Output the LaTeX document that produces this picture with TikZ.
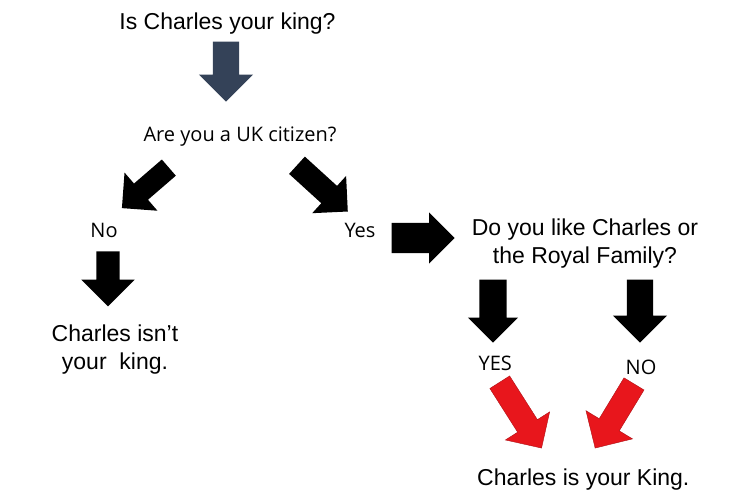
\documentclass[tikz,border=0pt]{standalone}
\usepackage{fontspec}
\setmainfont{Liberation Sans}
\newfontfamily\answerfont{Open Sans}
\usetikzlibrary{shapes.arrows}
\definecolor{slate}{RGB}{52,66,88}
\definecolor{kingred}{RGB}{232,22,28}
\begin{document}
\begin{tikzpicture}[x=1pt,y=-1pt,
				question/.style={inner sep=0pt,anchor=base,font=\fontsize{23}{27.6}\selectfont,align=center},
				answer/.style={inner sep=0pt,anchor=base,font=\answerfont\fontsize{20}{24}\selectfont},
				fat/.style n args={3}{single arrow,anchor=tip,inner xsep=0pt,minimum height=#1,inner ysep=#2/2,
					single arrow head extend=(#3-#2)/2,minimum width=#3,fill=black},
				redfat/.style n args={3}{fat={#1}{#2}{#3},fill=kingred,draw=kingred!75!black,line width=0.4pt}
				]
				\useasboundingbox[fill=white] (0,0) rectangle (732,503);
				\node[question](king) at (227.5,29.5){Is Charles your king?};
				\node[answer](uk) at (240,141.7){Are you a UK citizen?};
				\node[answer](no) at (104,237){No};
				\node[answer](yes) at (360,237.5){Yes};
				\node[question](notking) at (115,369.3){Charles isn't\\your\ \ king.};
				\node[question](like) at (585,263.3){Do you like Charles or\\the Royal Family?};
				\node[answer](likeyes) at (495.3,370.7){YES};
				\node[answer](likeno) at (641,374){NO};
				\node[question](isking) at (583.3,485){Charles is your King.};
				\node[fat={60}{26}{54},rotate=-90,fill=slate](a1) at (226,102){};
				\node[fat={62}{21}{50},rotate=-139.2](a2) at (121.7,208.3){};
				\node[fat={68.7}{23}{50},rotate=-42.3](a3) at (348,211.7){};
				\node[fat={55}{23}{53},rotate=-90](a4) at (108,306.7){};
				\node[fat={63}{30}{51}](a5) at (455,238){};
				\node[fat={63}{27}{50},rotate=-90](a6) at (493,343){};
				\node[fat={63}{26}{54},rotate=-90](a7) at (640,343){};
				\node[redfat={78}{23}{52},rotate=-57.6](a8) at (541.7,448.3){};
				\node[redfat={75}{23}{54},rotate=-121.2](a9) at (595,448.3){};
\end{tikzpicture}
\end{document}
